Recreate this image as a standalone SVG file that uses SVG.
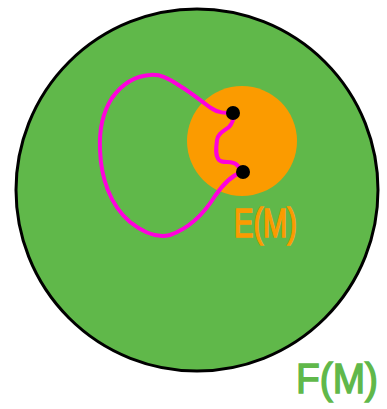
<svg xmlns="http://www.w3.org/2000/svg" width="387" height="409" viewBox="0 0 387 409">
<style>
.lbl{font-family:"Liberation Sans","DejaVu Sans",sans-serif;font-weight:normal;stroke-width:1.5}
.curve{fill:none;stroke:#ff00dd;stroke-width:4;stroke-linecap:round;stroke-linejoin:round}
</style>
<rect width="387" height="409" fill="#ffffff"/>
<g id="F">
<circle cx="197" cy="190" r="181" fill="#60b84a" stroke="#000" stroke-width="3"/>
</g>
<g id="E">
<circle cx="242" cy="141" r="55" fill="#fb9b00"/>
</g>
<g id="connectors">
<path class="curve" d="M233,113 C225,113 218,113 211,108 C200,100 190,92 180,86 C168,78 160,74 150,75 C135,76 122,84 112,98 C103,112 99,130 100,150 C101,178 110,205 130,222 C145,234 158,238 170,235 C190,228 205,212 215,196 C222,186 230,176 242,172"/>
<path class="curve" d="M235,110 C234,116 234,122 229,127 C224,131 218,133 217,140 C216,148 215,156 219,160 C223,164 232,160 237,165 C240,168 241,170 242,171"/>
</g>
<g id="p1"><circle cx="233" cy="113" r="7" fill="#000"/></g>
<g id="p2"><circle cx="243" cy="172" r="7" fill="#000"/></g>
<text class="lbl" x="234" y="237" font-size="40" fill="#fb9b00" stroke="#fb9b00" textLength="63" lengthAdjust="spacingAndGlyphs">E(M)</text>
<text class="lbl" x="296" y="393" font-size="42" fill="#60b84a" stroke="#60b84a" textLength="82" lengthAdjust="spacingAndGlyphs">F(M)</text>
</svg>
